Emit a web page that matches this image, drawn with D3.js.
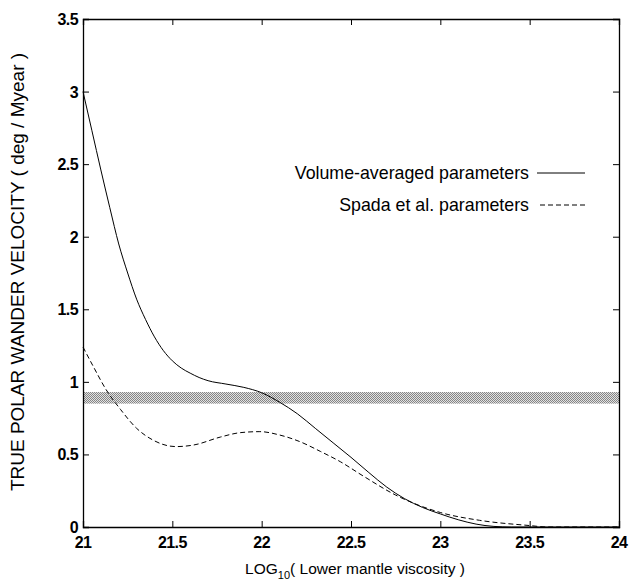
<!DOCTYPE html>
<html>
<head>
<meta charset="utf-8">
<script src="https://cdn.jsdelivr.net/npm/d3@7"></script>
<style>
  body { margin: 0; background: #fff; }
  svg { display: block; }
  .tick-label { font-family: "Liberation Sans", Arial, sans-serif; font-weight: 700; font-size: 16px; letter-spacing: -0.6px; }
  .title { font-family: "Liberation Sans", Arial, sans-serif; font-size: 16px; }
</style>
</head>
<body>
<svg id="chart" width="629" height="585"></svg>
<script>
// log10 lower mantle viscosity vs TPW velocity (deg/Myear)
var volAvgX = [21, 21.05, 21.1, 21.15, 21.2, 21.25, 21.3, 21.35, 21.4, 21.45, 21.5, 21.55, 21.6, 21.65, 21.7, 21.8, 21.9, 22.0, 22.1, 22.2, 22.3, 22.4, 22.5, 22.6, 22.7, 22.8, 22.9, 23.0, 23.1, 23.2, 23.3, 23.4, 24];
var volAvgY = [3.0, 2.73, 2.46, 2.2, 1.95, 1.75, 1.57, 1.43, 1.31, 1.215, 1.145, 1.095, 1.06, 1.03, 1.008, 0.985, 0.962, 0.925, 0.86, 0.78, 0.68, 0.58, 0.48, 0.375, 0.275, 0.195, 0.135, 0.09, 0.05, 0.02, 0.004, 0, 0];

var spadaX = [21, 21.058, 21.13, 21.21, 21.30, 21.39, 21.52, 21.62, 21.77, 21.88, 21.99, 22.10, 22.21, 22.33, 22.44, 22.57, 22.75, 23.0, 23.22, 23.5, 23.6, 24];
var spadaY = [1.24, 1.105, 0.945, 0.81, 0.68, 0.60, 0.554, 0.565, 0.62, 0.65, 0.657, 0.634, 0.59, 0.52, 0.45, 0.35, 0.22, 0.10, 0.046, 0.01, 0, 0];

// observed TPW band
var bandRange = [0.85, 0.93];

var xTicks = [21, 21.5, 22, 22.5, 23, 23.5, 24];
var yTicks = [0, 0.5, 1, 1.5, 2, 2.5, 3, 3.5];

var seriesNames = ["Volume-averaged parameters", "Spada et al. parameters"];

var svg = d3.select("#chart");
var m = {left: 83, right: 619, top: 19, bottom: 527};

var x = d3.scaleLinear().domain([21, 24]).range([m.left, m.right]);
var y = d3.scaleLinear().domain([0, 3.5]).range([m.bottom, m.top]);

// stipple pattern for band
var defs = svg.append("defs");
var pat = defs.append("pattern")
    .attr("id", "stipple")
    .attr("width", 2).attr("height", 2)
    .attr("patternUnits", "userSpaceOnUse");
pat.append("rect").attr("width", 2).attr("height", 2).attr("fill", "#e2e2e2");
pat.append("rect").attr("width", 1).attr("height", 1).attr("fill", "#858585");
pat.append("rect").attr("x", 1).attr("y", 1).attr("width", 1).attr("height", 1).attr("fill", "#858585");

svg.append("rect")
    .attr("x", x(21))
    .attr("y", y(bandRange[1]))
    .attr("width", x(24) - x(21))
    .attr("height", y(bandRange[0]) - y(bandRange[1]))
    .attr("fill", "url(#stipple)");

// curves
var line = d3.line().curve(d3.curveMonotoneX);

var volPts = volAvgX.map(function(d, i) { return [x(d), y(volAvgY[i])]; });
var spadaPts = spadaX.map(function(d, i) { return [x(d), y(spadaY[i])]; });

svg.append("path")
    .attr("d", line(volPts))
    .attr("fill", "none")
    .attr("stroke", "#000")
    .attr("stroke-width", 1);

svg.append("path")
    .attr("d", line(spadaPts))
    .attr("fill", "none")
    .attr("stroke", "#000")
    .attr("stroke-width", 1)
    .attr("stroke-dasharray", "5,3");

// axes (ticks pointing inward on all four sides)
var tickLen = 6;
svg.append("g")
    .attr("transform", "translate(0," + m.bottom + ")")
    .call(d3.axisTop(x).tickValues(xTicks).tickSize(tickLen).tickFormat(""));
svg.append("g")
    .attr("transform", "translate(0," + m.top + ")")
    .call(d3.axisBottom(x).tickValues(xTicks).tickSize(tickLen).tickFormat(""));
svg.append("g")
    .attr("transform", "translate(" + m.left + ",0)")
    .call(d3.axisRight(y).tickValues(yTicks).tickSize(tickLen).tickFormat(""));
svg.append("g")
    .attr("transform", "translate(" + m.right + ",0)")
    .call(d3.axisLeft(y).tickValues(yTicks).tickSize(tickLen).tickFormat(""));

svg.selectAll(".domain").attr("stroke", "#000").attr("stroke-width", 1.3);
svg.selectAll(".tick line").attr("stroke", "#000");

// tick labels
svg.append("g").selectAll("text")
    .data(xTicks)
    .enter().append("text")
    .attr("class", "tick-label")
    .attr("x", function(d) { return x(d); })
    .attr("y", m.bottom + 21)
    .attr("text-anchor", "middle")
    .text(function(d) { return d; });

svg.append("g").selectAll("text")
    .data(yTicks)
    .enter().append("text")
    .attr("class", "tick-label")
    .attr("x", m.left - 5)
    .attr("y", function(d) { return y(d) + 6; })
    .attr("text-anchor", "end")
    .text(function(d) { return d; });

// axis titles
var xt = svg.append("text")
    .attr("class", "title")
    .attr("x", 355)
    .attr("y", 574)
    .attr("text-anchor", "middle")
    .style("font-size", "15.5px");
xt.append("tspan").text("LOG");
xt.append("tspan").attr("font-size", "11px").attr("dy", 5).text("10");
xt.append("tspan").attr("dy", -5).text("( Lower mantle viscosity )");

svg.append("text")
    .attr("class", "title")
    .attr("transform", "translate(24,272) rotate(-90)")
    .attr("text-anchor", "middle")
    .style("font-size", "19px")
    .text("TRUE POLAR WANDER VELOCITY ( deg / Myear )");

// legend
var legend = svg.append("g");
legend.append("text")
    .attr("class", "title")
    .attr("x", 529).attr("y", 179)
    .attr("text-anchor", "end")
    .style("font-size", "17.8px")
    .text(seriesNames[0]);
legend.append("line")
    .attr("x1", 537).attr("x2", 585)
    .attr("y1", 173).attr("y2", 173)
    .attr("stroke", "#000");
legend.append("text")
    .attr("class", "title")
    .attr("x", 529).attr("y", 211)
    .attr("text-anchor", "end")
    .style("font-size", "17.8px")
    .text(seriesNames[1]);
legend.append("line")
    .attr("x1", 540).attr("x2", 585)
    .attr("y1", 205).attr("y2", 205)
    .attr("stroke", "#000")
    .attr("stroke-dasharray", "5,3");
</script>
</body>
</html>
